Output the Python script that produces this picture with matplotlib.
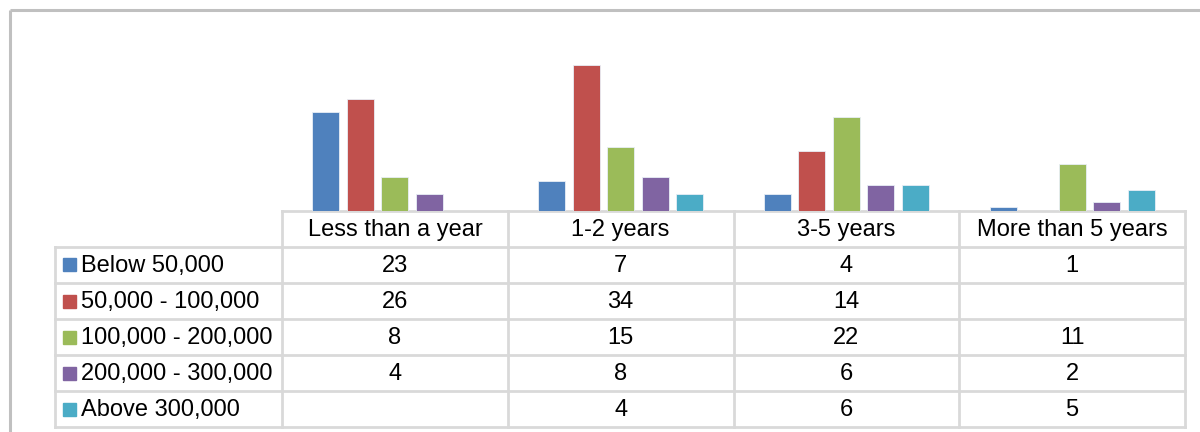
import matplotlib
matplotlib.use("Agg")
import matplotlib.pyplot as plt
import numpy as np

plt.rcParams['font.family'] = ['Liberation Sans', 'DejaVu Sans']

categories = ["Less than a year", "1-2 years", "3-5 years", "More than 5 years"]
series_names = ["Below 50,000", "50,000 - 100,000", "100,000 - 200,000",
                "200,000 - 300,000", "Above 300,000"]
below_50k = [23, 7, 4, 1]
from_50k_to_100k = [26, 34, 14, None]
from_100k_to_200k = [8, 15, 22, 11]
from_200k_to_300k = [4, 8, 6, 2]
above_300k = [None, 4, 6, 5]
series_values = [below_50k, from_50k_to_100k, from_100k_to_200k,
                 from_200k_to_300k, above_300k]
colors = ["#4F81BD", "#C0504D", "#9BBB59", "#8064A2", "#4BACC6"]

W, H = 1200, 432
fig = plt.figure(figsize=(W / 100, H / 100), dpi=100)
fig.patch.set_facecolor("white")

# layout in pixels
plot_left, plot_right = 282, 1185
base_y = 211
top_y = 39.4
ymax = 40

ax = fig.add_axes([plot_left / W, (H - base_y) / H,
                   (plot_right - plot_left) / W, (base_y - top_y) / H])
ax.set_xlim(0, len(categories))
ax.set_ylim(0, ymax)
ax.axis("off")

step = 0.153
width = 0.12
x = np.arange(len(categories)) + 0.5
for i, (vals, c) in enumerate(zip(series_values, colors)):
    xs = [xi + (i - 2) * step for xi, v in zip(x, vals) if v is not None]
    hs = [v for v in vals if v is not None]
    ax.bar(xs, hs, width=width, color=c, edgecolor="#e8eef6", linewidth=0.6)

# overlay for frame and data table, pixel coordinates
ov = fig.add_axes([0, 0, 1, 1])
ov.set_xlim(0, W)
ov.set_ylim(H, 0)
ov.axis("off")
ov.set_zorder(-1)

# outer chart border
ov.plot([10, 10], [H + 5, 10], color="#c0c0c0", lw=2.2, solid_capstyle="butt")
ov.plot([10, W + 5], [10, 10], color="#c0c0c0", lw=2.2, solid_capstyle="butt")

grid_c = "#d9d9d9"
glw = 2.0
col_edges = np.linspace(plot_left, plot_right, len(categories) + 1)
table_left = 55
row_edges = [base_y, 246.5, 283, 319, 355, 391, 427]

# horizontal lines
ov.plot([plot_left, plot_right], [row_edges[0]] * 2, color=grid_c, lw=glw)
for ry in row_edges[1:]:
    ov.plot([table_left, plot_right], [ry] * 2, color=grid_c, lw=glw)
# vertical lines
ov.plot([table_left] * 2, [row_edges[1], row_edges[-1]], color=grid_c, lw=glw)
for cx in col_edges:
    ov.plot([cx] * 2, [row_edges[0], row_edges[-1]], color=grid_c, lw=glw)

fs = 17
# header
for j, cat in enumerate(categories):
    cx = (col_edges[j] + col_edges[j + 1]) / 2
    cy = (row_edges[0] + row_edges[1]) / 2
    ov.text(cx, cy + 1, cat, ha="center", va="center", fontsize=fs, color="black")

# rows
for i, (name, vals, c) in enumerate(zip(series_names, series_values, colors)):
    cy = (row_edges[i + 1] + row_edges[i + 2]) / 2
    ov.add_patch(plt.Rectangle((63, cy - 6.5), 13, 13, color=c))
    ov.text(81, cy + 1, name, ha="left", va="center", fontsize=fs, color="black")
    for j, v in enumerate(vals):
        if v is None:
            continue
        cx = (col_edges[j] + col_edges[j + 1]) / 2
        ov.text(cx, cy + 1, str(v), ha="center", va="center", fontsize=fs, color="black")

fig.savefig("out.png", dpi=100, facecolor="white")
